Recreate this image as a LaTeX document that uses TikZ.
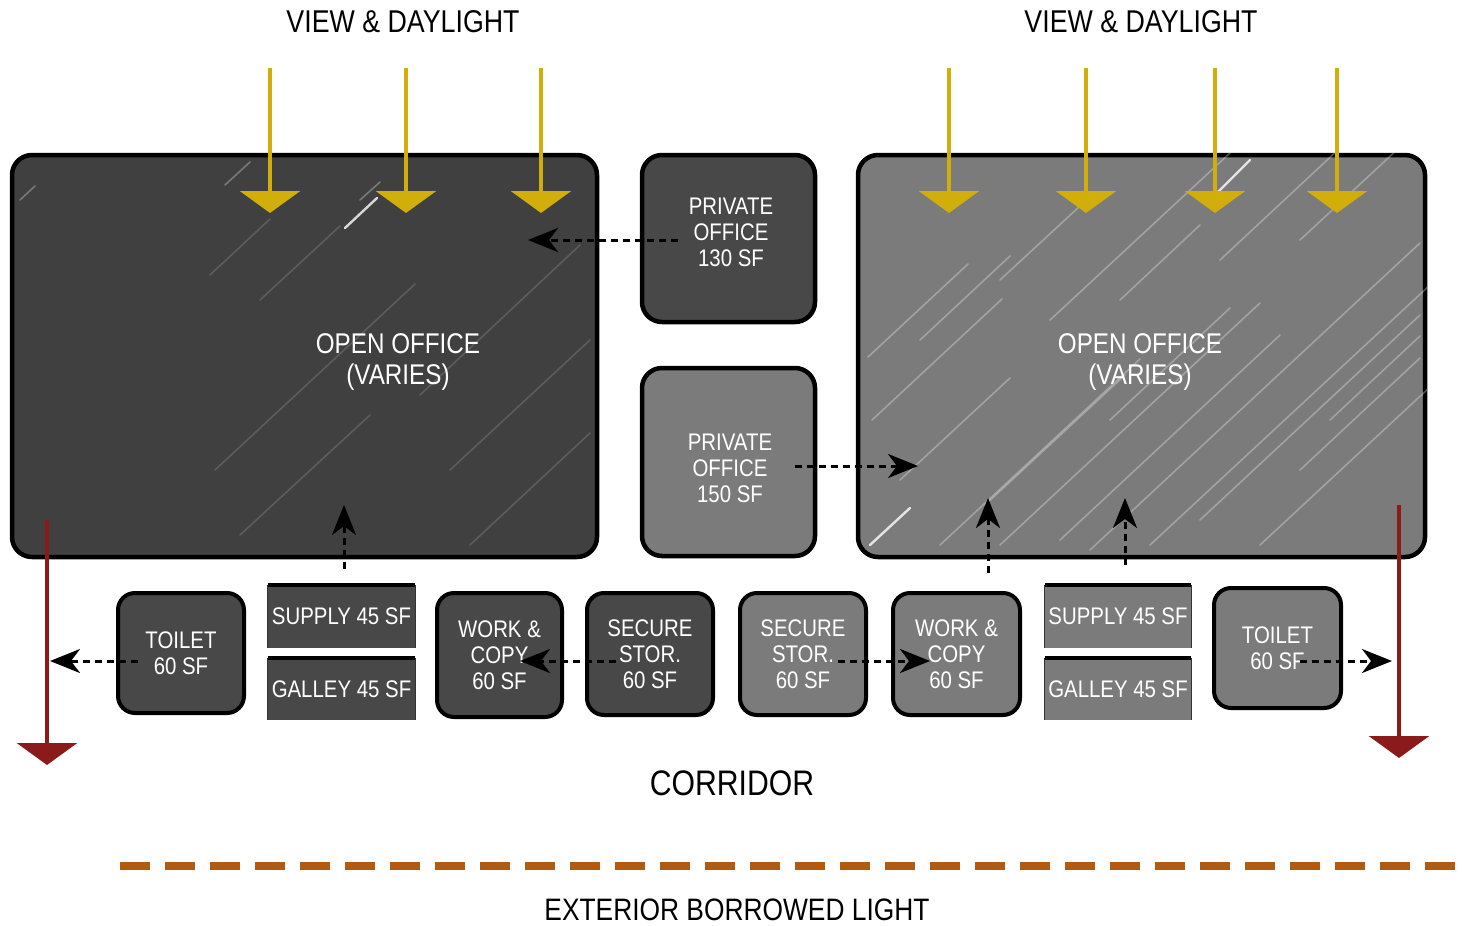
\documentclass[tikz,border=0pt]{standalone}
\usepackage{fontspec}
\setmainfont{Liberation Sans}[FakeStretch=0.85]
\usetikzlibrary{arrows.meta,calc}
\definecolor{darkfill}{HTML}{404040}
\definecolor{boxdark}{HTML}{484848}
\definecolor{midfill}{HTML}{7B7B7B}
\definecolor{sunyellow}{HTML}{D2AE0A}
\definecolor{exitred}{HTML}{8B1A1A}
\definecolor{borrowed}{HTML}{B05A12}
\tikzset{
  room/.style={draw=black, line width=4.5pt, rounded corners=20pt, inner sep=0pt},
  smallroom/.style={draw=black, line width=4pt, rounded corners=17pt, inner sep=0pt, text=white, align=center, font=\fontsize{24}{26}\selectfont},
  strip/.style={draw=none, inner sep=0pt, text=white, font=\fontsize{24}{26}\selectfont},
  whitelabel/.style={text=white, align=center},
  conn/.style={draw=black, line width=3pt, dash pattern=on 7pt off 5pt, -{Stealth[length=30pt,width=24pt,inset=9pt]}},
  sun/.style={draw=sunyellow, line width=3.5pt, -{Triangle[length=22pt,width=60pt,fill=sunyellow]}},
  exitarrow/.style={draw=exitred, line width=3.5pt, -{Triangle[length=22pt,width=60pt,fill=exitred]}},
  streak/.style={draw=white, line width=1.6pt, opacity=0.3, line cap=round},
  brightstreak/.style={draw=white, line width=2.4pt, opacity=0.8, line cap=round},
}
\begin{document}
\begin{tikzpicture}[x=1pt,y=-1pt]
\useasboundingbox (0,0) rectangle (1476,926);
\fill[white] (0,0) rectangle (1476,926);

% headings
\node[font=\fontsize{31.5}{33}\selectfont] (vdl) at (403,22) {VIEW \& DAYLIGHT};
\node[font=\fontsize{31.5}{33}\selectfont] (vdr) at (1141,22) {VIEW \& DAYLIGHT};

% open offices
\node[room, fill=darkfill, minimum width=585pt, minimum height=402pt] (openL) at (304.5,356) {};
\node[room, fill=midfill, minimum width=567pt, minimum height=402pt] (openR) at (1141.5,356) {};

% streaks
\begin{scope}
\clip[rounded corners=20pt] (openL.south west) rectangle (openL.north east);
\draw[streak] (20,200) -- ++(15,-14);
\draw[streak] (225,185) -- ++(25,-23);
\draw[brightstreak] (345,228) -- ++(32,-30);
\draw[streak] (360,200) -- ++(20,-18);
\draw[streak, opacity=0.15] (210,275) -- ++(60,-56);
\draw[streak, opacity=0.15] (260,300) -- ++(80,-74);
\draw[streak, opacity=0.15] (420,395) -- ++(160,-150);
\draw[streak, opacity=0.15] (450,470) -- ++(140,-130);
\draw[streak, opacity=0.15] (215,470) -- ++(200,-186);
\draw[streak, opacity=0.15] (240,535) -- ++(130,-120);
\draw[streak, opacity=0.15] (470,545) -- ++(120,-112);
\end{scope}
\begin{scope}
\clip[rounded corners=20pt] (openR.south west) rectangle (openR.north east);
\draw[streak] (868,357) -- ++(100,-93);
\draw[streak] (872,420) -- ++(130,-121);
\draw[streak] (900,480) -- ++(110,-102);
\draw[brightstreak] (870,545) -- ++(40,-37);
\draw[streak] (940,545) -- ++(200,-186);
\draw[streak] (985,505) -- ++(140,-130);
\draw[streak] (1000,545) -- ++(260,-242);
\draw[streak] (1060,540) -- ++(220,-205);
\draw[streak] (1090,550) -- ++(330,-307);
\draw[streak] (1150,545) -- ++(280,-260);
\draw[streak] (1200,520) -- ++(220,-205);
\draw[streak] (1260,545) -- ++(170,-158);
\draw[streak] (1300,470) -- ++(120,-112);
\draw[streak] (1050,320) -- ++(180,-167);
\draw[streak] (1120,300) -- ++(80,-75);
\draw[brightstreak] (1210,200) -- ++(40,-40);
\draw[streak] (1220,260) -- ++(120,-112);
\draw[streak] (1300,240) -- ++(100,-93);
\draw[streak] (1330,420) -- ++(90,-84);
\draw[streak] (1000,280) -- ++(80,-74);
\draw[streak] (1110,420) -- ++(120,-112);
\draw[streak] (920,340) -- ++(90,-84);
\end{scope}
\node[whitelabel, font=\fontsize{28.5}{31}\selectfont] (openLlab) at (398,362) {OPEN OFFICE\\(VARIES)};
\node[whitelabel, font=\fontsize{28.5}{31}\selectfont] (openRlab) at (1140,362) {OPEN OFFICE\\(VARIES)};

% private offices
\node[room, fill=boxdark, minimum width=173pt, minimum height=167pt] (p130) at (728.5,238.5) {};
\node[whitelabel, font=\fontsize{24}{26}\selectfont] (p130lab) at (731,232) {PRIVATE\\OFFICE\\130 SF};
\node[room, fill=midfill, minimum width=173pt, minimum height=188pt] (p150) at (728.5,462) {};
\node[whitelabel, font=\fontsize{24}{26}\selectfont] (p150lab) at (730,468) {PRIVATE\\OFFICE\\150 SF};

% bottom row
\node[smallroom, fill=boxdark, minimum width=126pt, minimum height=120pt] (toiL) at (181,653) {TOILET\\60 SF};
\node[strip, fill=boxdark, minimum width=147pt, minimum height=63pt] (supL) at (341.5,616.5) {SUPPLY 45 SF};
\node[strip, fill=boxdark, minimum width=147pt, minimum height=62pt] (galL) at (341.5,689) {GALLEY 45 SF};
\node[smallroom, fill=boxdark, minimum width=125pt, minimum height=124pt] (workL) at (499.5,655) {WORK \&\\COPY\\60 SF};
\node[smallroom, fill=boxdark, minimum width=126pt, minimum height=122pt] (secL) at (650,654) {SECURE\\STOR.\\60 SF};
\node[smallroom, fill=midfill, minimum width=126pt, minimum height=122pt] (secR) at (803,654) {SECURE\\STOR.\\60 SF};
\node[smallroom, fill=midfill, minimum width=127pt, minimum height=122pt] (workR) at (956.5,654) {WORK \&\\COPY\\60 SF};
\node[strip, fill=midfill, minimum width=146pt, minimum height=63pt] (supR) at (1118,616.5) {SUPPLY 45 SF};
\node[strip, fill=midfill, minimum width=146pt, minimum height=62pt] (galR) at (1118,689) {GALLEY 45 SF};
\node[smallroom, fill=midfill, minimum width=127pt, minimum height=120pt] (toiR) at (1277.5,648) {TOILET\\60 SF};

% strip edges
\foreach \s in {supL,galL,supR,galR}{
  \draw[line width=4pt] (\s.north west) -- (\s.north east);
  \draw[line width=1.2pt, black!80] (\s.north west) -- (\s.south west);
  \draw[line width=1.2pt, black!80] (\s.north east) -- (\s.south east);
}

% daylight arrows
\foreach \x [count=\i] in {270,406,541,949,1086,1215,1337}{
  \coordinate (sunS\i) at (\x,68);
  \coordinate (sunE\i) at (\x,213);
  \draw[sun] (sunS\i) -- (sunE\i);
}

% exit arrows
\coordinate (exLs) at (47,520);
\coordinate (exLe) at (47,765);
\coordinate (exRs) at (1399,505);
\coordinate (exRe) at (1399,758);
\draw[exitarrow] (exLs) -- (exLe);
\draw[exitarrow] (exRs) -- (exRe);

% connectors
\coordinate (t1) at (528,240);
\coordinate (t2) at (918,466);
\coordinate (t3) at (344,505);
\coordinate (t4) at (988,498);
\coordinate (t5) at (1125,498);
\coordinate (t6) at (50,661);
\coordinate (t7) at (520,661);
\coordinate (t8) at (930,661);
\coordinate (t9) at (1392,661);
\draw[conn] ($(p130.west)+(38,1.5)$) -- (t1);
\draw[conn] ($(p150.center)+(66,4)$) -- (t2);
\draw[conn] ($(supL.north)+(2.5,-16)$) -- (t3);
\draw[conn] ($(workR.north)+(31.5,-18)$) -- (t4);
\draw[conn] ($(supR.north)+(7,-20)$) -- (t5);
\draw[conn] ($(toiL.west)+(22,8)$) -- (t6);
\draw[conn] ($(secL.west)+(31,7)$) -- (t7);
\draw[conn] ($(secR.center)+(35,7)$) -- (t8);
\draw[conn] ($(toiR.center)+(22,13)$) -- (t9);

% corridor and borrowed light
\node[font=\fontsize{35.5}{38}\selectfont] (corr) at (732,783) {CORRIDOR};
\coordinate (bl1) at (120,866);
\coordinate (bl2) at (1464,866);
\draw[borrowed, line width=8pt, dash pattern=on 30pt off 15pt] (bl1) -- (bl2);
\node[font=\fontsize{31}{33}\selectfont] (ebl) at (737,910) {EXTERIOR BORROWED LIGHT};
\end{tikzpicture}
\end{document}
